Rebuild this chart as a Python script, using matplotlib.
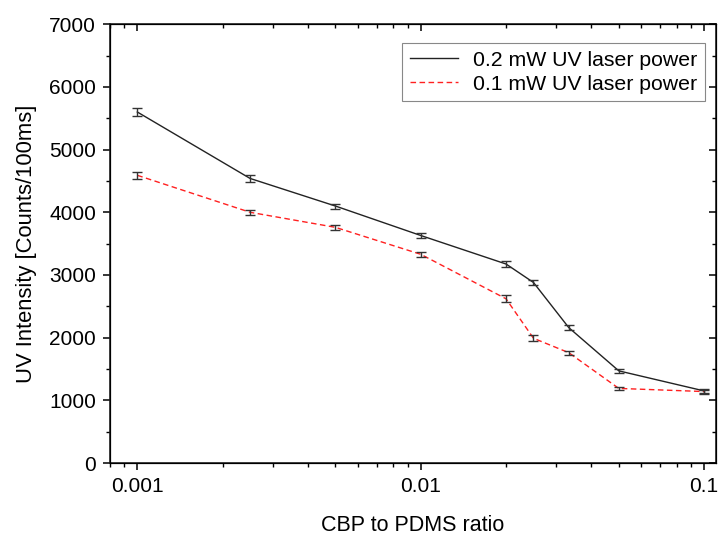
import matplotlib
matplotlib.use("Agg")
import matplotlib.pyplot as plt
from matplotlib.ticker import LogLocator, FixedLocator, MultipleLocator, NullFormatter

plt.rcParams["font.family"] = ["Liberation Sans", "DejaVu Sans"]
plt.rcParams["font.size"] = 15

# CBP to PDMS ratio
ratio = [0.001, 0.0025, 0.005, 0.01, 0.02, 0.025, 0.0333, 0.05, 0.1]

# 0.2 mW UV laser power
high_power = [5600, 4540, 4100, 3630, 3175, 2880, 2160, 1470, 1150]
high_err = [60, 60, 40, 40, 45, 40, 35, 27, 32]

# 0.1 mW UV laser power
low_power = [4590, 4000, 3760, 3330, 2620, 1990, 1760, 1190, 1140]
low_err = [53, 37, 43, 37, 53, 48, 32, 27, 32]

fig = plt.figure(figsize=(7.18, 5.39), dpi=100)
ax = fig.add_axes([0.153, 0.141, 0.844, 0.814])

ax.plot(ratio, high_power, color="#222222", lw=1.0, label="0.2 mW UV laser power")
ax.plot(ratio, low_power, color="#ff2020", lw=1.0, ls=(0, (4, 2.5)),
        label="0.1 mW UV laser power")
ax.errorbar(ratio, high_power, yerr=high_err, fmt="none", ecolor="#333333",
            elinewidth=1.0, capsize=3.5, capthick=1.0)
ax.errorbar(ratio, low_power, yerr=low_err, fmt="none", ecolor="#333333",
            elinewidth=1.0, capsize=3.5, capthick=1.0)

ax.set_xscale("log")
ax.set_xlim(0.0008, 0.11)
ax.set_ylim(0, 7000)
ax.xaxis.set_major_locator(FixedLocator([0.001, 0.01, 0.1]))
ax.xaxis.set_major_formatter(plt.FuncFormatter(lambda v, p: f"{v:g}"))
ax.xaxis.set_minor_locator(LogLocator(base=10, subs=range(2, 10)))
ax.xaxis.set_minor_formatter(NullFormatter())
ax.yaxis.set_major_locator(MultipleLocator(1000))
ax.yaxis.set_minor_locator(MultipleLocator(500))

for s in ax.spines.values():
    s.set_linewidth(1.2)
    s.set_color("#222222")
ax.tick_params(which="major", direction="out", length=5, width=1.1, pad=5)
ax.tick_params(which="minor", direction="out", length=3, width=1.0)

# mirrored ticks on top and right, pointing in
top = ax.twiny()
top.set_xscale("log")
top.set_xlim(ax.get_xlim())
top.xaxis.set_major_locator(FixedLocator([0.001, 0.01, 0.1]))
top.xaxis.set_minor_locator(LogLocator(base=10, subs=range(2, 10)))
top.tick_params(which="both", direction="in", labeltop=False)
top.tick_params(which="major", length=5, width=1.1)
top.tick_params(which="minor", length=3, width=1.0)
right = ax.twinx()
right.set_ylim(ax.get_ylim())
right.yaxis.set_major_locator(MultipleLocator(1000))
right.yaxis.set_minor_locator(MultipleLocator(500))
right.tick_params(which="both", direction="in", labelright=False)
right.tick_params(which="major", length=5, width=1.1)
right.tick_params(which="minor", length=3, width=1.0)

ax.set_xlabel("CBP to PDMS ratio", fontsize=15.5, labelpad=14)
ax.set_ylabel("UV Intensity [Counts/100ms]", fontsize=15.8, labelpad=9)

leg = ax.legend(loc="upper right", bbox_to_anchor=(0.982, 0.957), fancybox=False,
                edgecolor="#888888", framealpha=1, handlelength=2.3,
                handletextpad=0.7, fontsize=15.3, borderpad=0.35,
                labelspacing=0.25, borderaxespad=0)
leg.get_frame().set_linewidth(0.8)

fig.savefig("out.png", dpi=100)
